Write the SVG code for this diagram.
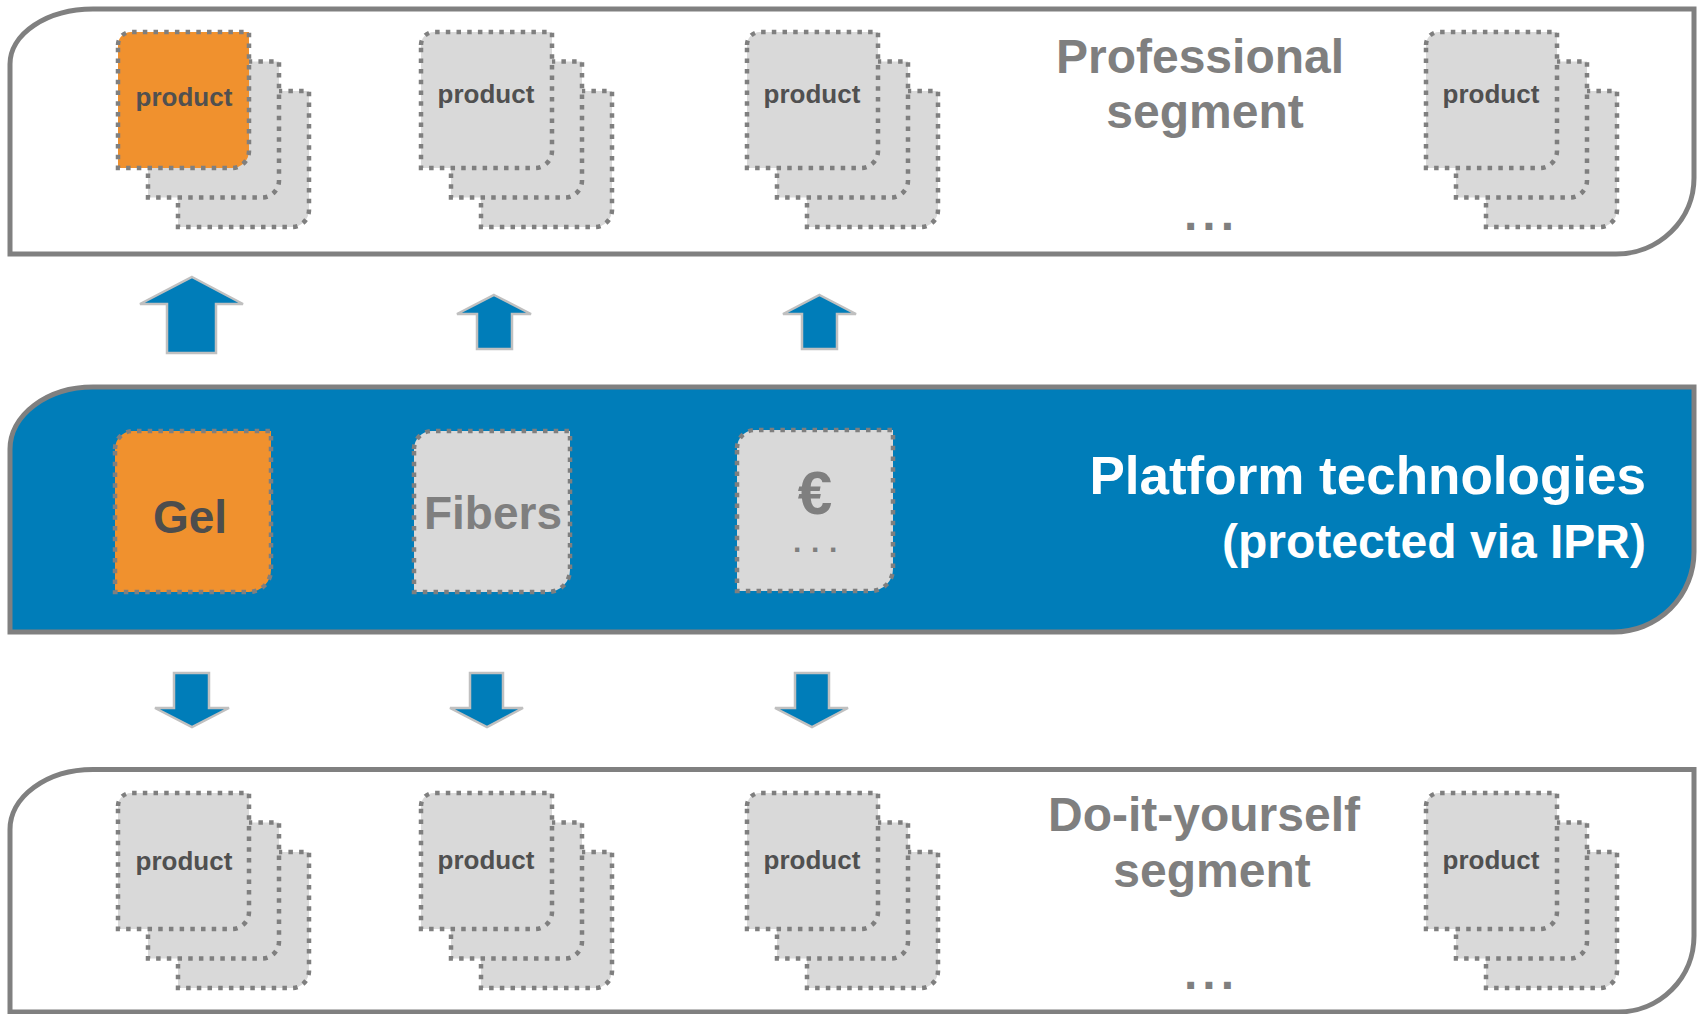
<svg xmlns="http://www.w3.org/2000/svg" xmlns:xlink="http://www.w3.org/1999/xlink" width="1700" height="1014" viewBox="0 0 1700 1014">
<style>
  .band { fill: #ffffff; stroke: #808080; stroke-width: 5; }
  .band-blue { fill: #007DB9; stroke: #808080; stroke-width: 5; }
  .card { fill: #D9D9D9; stroke: #7F7F7F; stroke-width: 4.5; stroke-dasharray: 4.5 6.2; }
  .card-o { fill: #F0912E; stroke: #7F7F7F; stroke-width: 4.5; stroke-dasharray: 4.5 6.2; }
  .arrow { fill: #007DB9; stroke: #C0C0C0; stroke-width: 2.5; }
  text { font-family: "Liberation Sans", Arial, sans-serif; font-weight: bold; }
  .ptxt { font-size: 26px; fill: #505050; text-anchor: middle; }
  .seg { font-size: 48px; fill: #7F7F7F; text-anchor: middle; }
  .dots { font-size: 48px; fill: #7F7F7F; letter-spacing: 5px; }
  .plat { fill: #ffffff; text-anchor: end; }
</style>
<defs>
  <path id="pc" d="M0,13 A13,13 0 0 1 13,0 H131 V119 A17,17 0 0 1 114,136 H0 Z"/>
  <path id="tc" d="M0,18 A18,18 0 0 1 18,0 H156 V139 A22,22 0 0 1 134,161 H0 Z"/>
</defs>

<g id="band-professional">
  <path class="band" d="M10,64 A83,55 0 0 1 93,9 H1694 V178 A78,76 0 0 1 1616,254 H10 Z"/>
  <text class="seg" x="1200" y="73">Professional</text>
  <text class="seg" x="1205" y="128">segment</text>
  <text class="dots" x="1184" y="230">...</text>
</g>

<g id="band-platform">
  <path class="band-blue" d="M10,449 A83,62 0 0 1 93,387 H1694 V552 A80,80 0 0 1 1614,632 H10 Z"/>
  <text class="plat" x="1646" y="494" font-size="53">Platform technologies</text>
  <text class="plat" x="1646" y="558" font-size="48">(protected via IPR)</text>
</g>

<g id="band-diy">
  <path class="band" d="M10,830 A83,60 0 0 1 93,769.5 H1694 V936 A76,76 0 0 1 1618,1012 H10 Z"/>
  <text class="seg" x="1204" y="831">Do-it-yourself</text>
  <text class="seg" x="1212" y="887">segment</text>
  <text class="dots" x="1184" y="989">...</text>
</g>

<g id="pro-stack-1">
  <use href="#pc" class="card" x="178" y="91"/>
  <use href="#pc" class="card" x="148" y="61.5"/>
  <use href="#pc" class="card-o" x="118" y="32"/>
  <text class="ptxt" x="184" y="106">product</text>
</g>
<g id="pro-stack-2">
  <use href="#pc" class="card" x="481" y="91"/>
  <use href="#pc" class="card" x="451" y="61.5"/>
  <use href="#pc" class="card" x="421" y="32"/>
  <text class="ptxt" x="486" y="103">product</text>
</g>
<g id="pro-stack-3">
  <use href="#pc" class="card" x="807" y="91"/>
  <use href="#pc" class="card" x="777" y="61.5"/>
  <use href="#pc" class="card" x="747" y="32"/>
  <text class="ptxt" x="812" y="103">product</text>
</g>
<g id="pro-stack-4">
  <use href="#pc" class="card" x="1486" y="91"/>
  <use href="#pc" class="card" x="1456" y="61.5"/>
  <use href="#pc" class="card" x="1426" y="32"/>
  <text class="ptxt" x="1491" y="103">product</text>
</g>

<g id="tech-gel">
  <use href="#tc" class="card-o" x="115" y="431"/>
  <text x="190" y="533" font-size="46" fill="#4D4D4D" text-anchor="middle">Gel</text>
</g>
<g id="tech-fibers">
  <use href="#tc" class="card" x="414" y="431"/>
  <text x="493" y="529" font-size="46" fill="#7F7F7F" text-anchor="middle">Fibers</text>
</g>
<g id="tech-euro">
  <use href="#tc" class="card" x="737" y="430"/>
  <text x="815" y="514" font-size="62" fill="#7F7F7F" text-anchor="middle">€</text>
  <text x="793" y="552" font-size="30" fill="#7F7F7F" letter-spacing="9.7">...</text>
</g>

<g id="diy-stack-1">
  <use href="#pc" class="card" x="178" y="852"/>
  <use href="#pc" class="card" x="148" y="822.5"/>
  <use href="#pc" class="card" x="118" y="793"/>
  <text class="ptxt" x="184" y="870">product</text>
</g>
<g id="diy-stack-2">
  <use href="#pc" class="card" x="481" y="852"/>
  <use href="#pc" class="card" x="451" y="822.5"/>
  <use href="#pc" class="card" x="421" y="793"/>
  <text class="ptxt" x="486" y="869">product</text>
</g>
<g id="diy-stack-3">
  <use href="#pc" class="card" x="807" y="852"/>
  <use href="#pc" class="card" x="777" y="822.5"/>
  <use href="#pc" class="card" x="747" y="793"/>
  <text class="ptxt" x="812" y="869">product</text>
</g>
<g id="diy-stack-4">
  <use href="#pc" class="card" x="1486" y="852"/>
  <use href="#pc" class="card" x="1456" y="822.5"/>
  <use href="#pc" class="card" x="1426" y="793"/>
  <text class="ptxt" x="1491" y="869">product</text>
</g>

<g id="connectors">
  <path class="arrow" d="M192,277 L243,304 H216 V353 H167 V304 H140 Z"/>
  <path class="arrow" d="M494,295 L531,314 H512 V349 H477 V314 H457 Z"/>
  <path class="arrow" d="M819.5,295 L856,314 H837 V349 H802 V314 H783 Z"/>
  <path class="arrow" d="M174,673 H209 V708 H229 L192,727 L155,708 H174 Z"/>
  <path class="arrow" d="M470,673 H503 V708 H523 L487,727 L450,708 H470 Z"/>
  <path class="arrow" d="M795,673 H829 V708 H848 L812,727 L775,708 H795 Z"/>
</g>
</svg>
